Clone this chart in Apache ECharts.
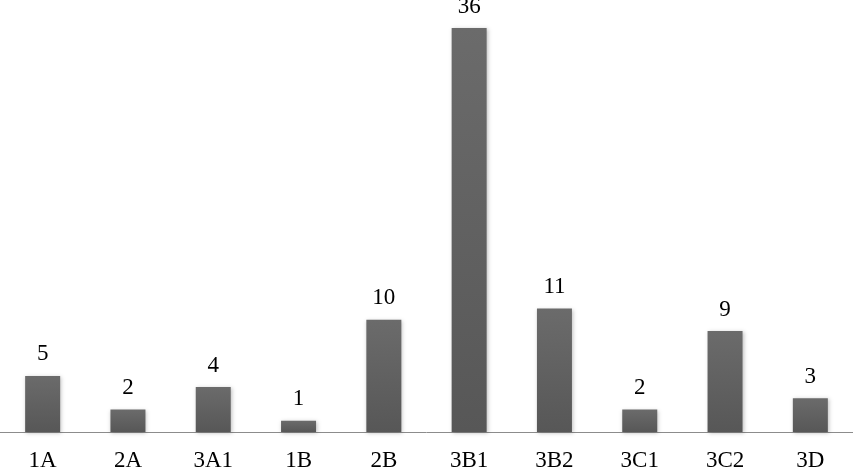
<!DOCTYPE html>
<html>
<head>
<meta charset="utf-8">
<script src="https://cdn.jsdelivr.net/npm/echarts@6/dist/echarts.min.js"></script>
<style>
  html, body { margin: 0; padding: 0; background: #fff; }
  #chart { width: 853px; height: 468px; }
</style>
</head>
<body>
<div id="chart"></div>
<script>
const categories = ['1A', '2A', '3A1', '1B', '2B', '3B1', '3B2', '3C1', '3C2', '3D'];
const counts = [5, 2, 4, 1, 10, 36, 11, 2, 9, 3];

const myChart = echarts.init(document.getElementById('chart'));

const option = {
  animation: false,
  grid: {
    top: 28,
    bottom: 36,
    left: 0,
    right: 0,
    outerBoundsMode: 'none',
    containLabel: false
  },
  xAxis: {
    type: 'category',
    data: categories,
    axisTick: { show: false },
    axisLine: {
      lineStyle: { color: '#8c8c8c', width: 1 }
    },
    axisLabel: {
      color: '#000',
      fontFamily: 'Liberation Serif',
      fontSize: 23,
      margin: 17
    }
  },
  yAxis: {
    type: 'value',
    min: 0,
    max: 36,
    show: false,
    splitLine: { show: false }
  },
  series: [{
    type: 'bar',
    data: counts,
    barWidth: 35,
    itemStyle: {
      color: new echarts.graphic.LinearGradient(0, 0, 0, 1, [
        { offset: 0, color: '#6b6b6b' },
        { offset: 1, color: '#575757' }
      ]),
      shadowColor: 'rgba(0,0,0,0.25)',
      shadowBlur: 4,
      shadowOffsetX: 1,
      shadowOffsetY: 1
    },
    label: {
      show: true,
      position: 'top',
      distance: 10,
      color: '#000',
      fontFamily: 'Liberation Serif',
      fontSize: 23
    }
  }]
};

myChart.setOption(option);
</script>
</body>
</html>
